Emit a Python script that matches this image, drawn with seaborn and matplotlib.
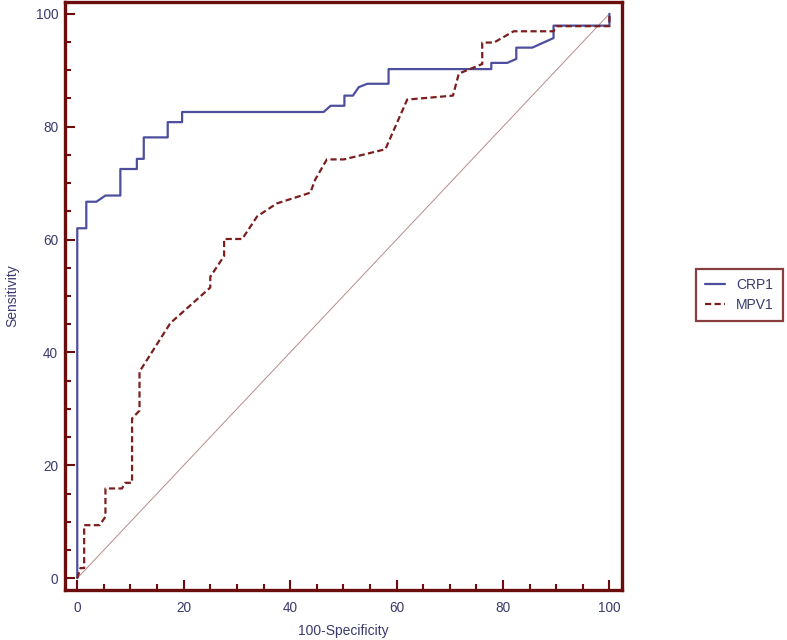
import matplotlib
matplotlib.use("Agg")
import matplotlib.pyplot as plt
from matplotlib.ticker import MultipleLocator
import pandas as pd
import seaborn as sns

# --- ROC curve points (100-Specificity, Sensitivity) ---
crp_x = [0, 0, 1.7, 1.7, 3.6, 5.3, 8.1, 8.1, 11.2, 11.2, 12.5, 12.5, 17.0, 17.0,
         19.7, 19.7, 46.3, 47.6, 50.2, 50.2, 51.8, 52.9, 54.5, 58.5, 58.5, 77.8,
         77.8, 80.8, 82.5, 82.5, 85.5, 89.5, 89.5, 100, 100]
crp_y = [0, 62.0, 62.0, 66.7, 66.7, 67.8, 67.8, 72.5, 72.5, 74.3, 74.3, 78.1, 78.1, 80.8,
         80.8, 82.6, 82.6, 83.7, 83.7, 85.5, 85.5, 87.0, 87.6, 87.6, 90.2, 90.2,
         91.3, 91.3, 92.0, 94.0, 94.0, 95.7, 97.9, 97.9, 100]

mpv_x = [0, 0.6, 1.3, 1.3, 4.2, 5.3, 5.3, 8.4, 9.0, 10.3, 10.3, 11.7, 11.7, 17.5,
         25.0, 25.0, 27.6, 27.6, 31.0, 33.8, 37.5, 43.8, 44.7, 46.9, 50.1, 57.9,
         62.0, 70.6, 71.7, 76.1, 76.1, 78.3, 82.0, 89.5, 90.0, 100, 100]
mpv_y = [0, 1.8, 1.8, 9.4, 9.4, 10.9, 15.9, 15.9, 16.9, 16.9, 28.3, 29.7, 36.6, 45.2,
         51.5, 53.4, 57.1, 60.1, 60.1, 64.1, 66.4, 68.3, 70.6, 74.2, 74.2, 76.0,
         84.8, 85.5, 89.4, 91.1, 94.9, 94.9, 96.9, 96.9, 97.8, 97.8, 100]

ref_line = [0, 100]

# --- Style ---
sns.set_style("white")
plt.rcParams['font.family'] = ['Liberation Sans', 'DejaVu Sans']

FRAME = '#6b0d0d'
TEXT = '#3a3a6e'
BLUE = '#4d4f9e'
RED = '#7a1e1e'

crp_df = pd.DataFrame({'fpr': crp_x, 'tpr': crp_y})
mpv_df = pd.DataFrame({'fpr': mpv_x, 'tpr': mpv_y})

fig = plt.figure(figsize=(7.87, 6.4), dpi=100)
ax = fig.add_axes([0.0826, 0.078, 0.708, 0.919])

# diagonal reference line
ax.plot(ref_line, ref_line, color='#b88a8a', lw=0.7, zorder=1)

sns.lineplot(data=crp_df, x='fpr', y='tpr', ax=ax, estimator=None, sort=False,
             color=BLUE, lw=1.6, label='CRP1')
sns.lineplot(data=mpv_df, x='fpr', y='tpr', ax=ax, estimator=None, sort=False,
             color=RED, lw=1.6, linestyle=(0, (2.8, 1.5)), label='MPV1')

ax.set_xlim(-2.3, 102.4)
ax.set_ylim(-2.1, 102.1)
ax.xaxis.set_major_locator(MultipleLocator(20))
ax.xaxis.set_minor_locator(MultipleLocator(5))
ax.yaxis.set_major_locator(MultipleLocator(20))
ax.yaxis.set_minor_locator(MultipleLocator(5))
ax.tick_params(which='major', direction='in', length=7, width=1.5, color=FRAME,
               labelsize=9.8, labelcolor=TEXT)
ax.tick_params(which='minor', direction='in', length=4.3, width=1.5, color=FRAME)
ax.tick_params(axis='x', which='both', bottom=True, pad=8)
ax.tick_params(axis='y', which='both', left=True, pad=5)

for sp in ax.spines.values():
    sp.set_color(FRAME)
    sp.set_linewidth(2.4)

ax.set_xlabel('100-Specificity', color=TEXT, fontsize=10, labelpad=6)
ax.set_ylabel('Sensitivity', color=TEXT, fontsize=10, labelpad=12)

leg = ax.legend(loc='center left', bbox_to_anchor=(1.133, 0.502), frameon=True,
                fancybox=False, fontsize=10, handlelength=1.4, borderpad=0.65,
                labelspacing=0.4, handletextpad=0.8, borderaxespad=0)
leg.get_frame().set_edgecolor(FRAME)
leg.get_frame().set_linewidth(1.6)
for t in leg.get_texts():
    t.set_color(TEXT)

fig.savefig('out.png', dpi=100)
